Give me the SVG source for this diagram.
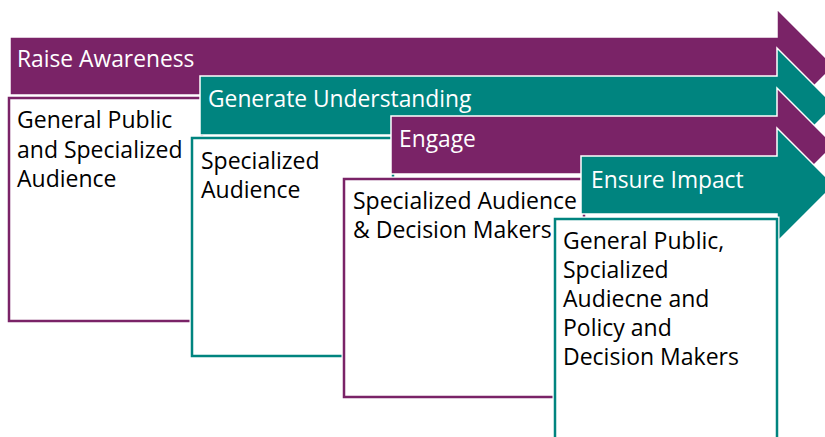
<svg xmlns="http://www.w3.org/2000/svg" width="825" height="437" viewBox="0 0 825 437">
<style>
.p{fill:#7A2367}
.t{fill:#00847F}
.ar{stroke:#fff;stroke-width:1.5}
.bx{fill:#fff;stroke-width:2.5}
.bo{fill:none;stroke:#fff;stroke-width:5}
.bp{stroke:#7A2367}
.bt{stroke:#00847F}
.h{font-family:"Open Sans",sans-serif;font-size:22.8px;fill:#fff}
.b{font-family:"Open Sans",sans-serif;font-size:23px;fill:#000}
</style>
<rect width="825" height="437" fill="#fff"/>
<g id="arrow1"><path class="p ar" d="M10,37 H777 V9 L834,66 L777,123 V95 H10 Z"/><text class="h" x="17" y="67">Raise Awareness</text></g>
<g id="box1"><rect class="bo" x="9" y="98" width="193" height="223"/><rect class="bx bp" x="9" y="98" width="193" height="223"/>
<text class="b"><tspan x="17" y="128">General Public</tspan><tspan x="17" y="158">and Specialized</tspan><tspan x="17" y="187">Audience</tspan></text></g>
<g id="arrow2"><path class="t ar" d="M200,76 H777 V48 L834.5,105.5 L777,163 V135 H200 Z"/><text class="h" x="208" y="107">Generate Understanding</text></g>
<g id="box2"><rect class="bo" x="192" y="138" width="201" height="218"/><rect class="bx bt" x="192" y="138" width="201" height="218"/>
<text class="b"><tspan x="201" y="169">Specialized</tspan><tspan x="201" y="198">Audience</tspan></text></g>
<g id="arrow3"><path class="p ar" d="M391,116 H777 V88 L834,145 L777,202 V174 H391 Z"/><text class="h" x="399" y="147">Engage</text></g>
<g id="box3"><rect class="bo" x="344" y="179" width="240" height="218"/><rect class="bx bp" x="344" y="179" width="240" height="218"/>
<text class="b"><tspan x="353" y="209">Specialized Audience</tspan><tspan x="353" y="238">&amp; Decision Makers</tspan></text></g>
<g id="arrow4"><path class="t ar" d="M581,156 H777 V128 L834,185 L777,242 V214 H581 Z"/><text class="h" x="591" y="188">Ensure Impact</text></g>
<g id="box4"><rect class="bo" x="555" y="219" width="222" height="230"/><rect class="bx bt" x="555" y="219" width="222" height="230"/>
<text class="b"><tspan x="563" y="249">General Public,</tspan><tspan x="563" y="278">Spcialized</tspan><tspan x="563" y="307">Audiecne and</tspan><tspan x="563" y="336">Policy and</tspan><tspan x="563" y="365">Decision Makers</tspan></text></g>
<g id="connectors"/>
</svg>
